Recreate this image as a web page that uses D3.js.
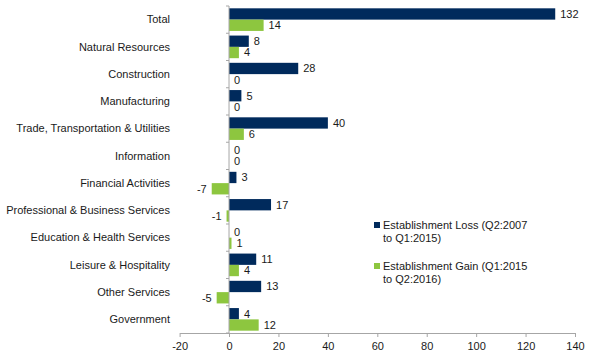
<html>
<head>
<meta charset="utf-8">
<style>
  body { margin: 0; background: #fff; font-family: 'Liberation Sans', Arial, sans-serif; }
  .axis path, .axis line { stroke: #a6a6a6; }
  text { fill: #1a1a1a; }
</style>
</head>
<body>
<script src="https://d3js.org/d3.v7.min.js"></script>
<script>

var categories = ['Total', 'Natural Resources', 'Construction', 'Manufacturing',
  'Trade, Transportation & Utilities', 'Information', 'Financial Activities',
  'Professional & Business Services', 'Education & Health Services',
  'Leisure & Hospitality', 'Other Services', 'Government'];
var loss = [132, 8, 28, 5, 40, 0, 3, 17, 0, 11, 13, 4];
var gain = [14, 4, 0, 0, 6, 0, -7, -1, 1, 4, -5, 12];
var seriesNames = ['Establishment Loss (Q2:2007|to Q1:2015)', 'Establishment Gain (Q1:2015|to Q2:2016)'];
var colors = ['#002a5c', '#8dc63f'];
var xTicks = [-20, 0, 20, 40, 60, 80, 100, 120, 140];

var width = 595, height = 364;

var svg = d3.select('body').append('svg')
  .attr('width', width)
  .attr('height', height);

var x = d3.scaleLinear().domain([-20, 140]).range([179.6, 575]);
var y = d3.scaleBand().domain(categories).range([6, 333]).paddingInner(0.17).paddingOuter(0.085);
var sub = d3.scaleBand().domain([0, 1]).range([0, y.bandwidth()]);

var rows = categories.map(function (c, i) { return { cat: c, vals: [loss[i], gain[i]] }; });

var g = svg.selectAll('g.row')
  .data(rows)
  .enter().append('g')
  .attr('class', 'row')
  .attr('transform', function (d) { return 'translate(0,' + y(d.cat) + ')'; });

g.selectAll('rect')
  .data(function (d) { return d.vals; })
  .enter().append('rect')
  .attr('x', function (v) { return x(Math.min(0, v)); })
  .attr('y', function (v, i) { return sub(i); })
  .attr('width', function (v) { return Math.abs(x(v) - x(0)); })
  .attr('height', sub.bandwidth())
  .attr('fill', function (v, i) { return colors[i]; });

g.selectAll('text.val')
  .data(function (d) { return d.vals; })
  .enter().append('text')
  .attr('class', 'val')
  .attr('x', function (v) { return v < 0 ? x(v) - 5 : x(v) + 5; })
  .attr('y', function (v, i) { return sub(i) + sub.bandwidth() / 2; })
  .attr('dy', '0.35em')
  .attr('text-anchor', function (v) { return v < 0 ? 'end' : 'start'; })
  .style('font-size', '11px')
  .text(function (v) { return v; });

// x axis
svg.append('g')
  .attr('class', 'axis')
  .attr('transform', 'translate(0,333)')
  .call(d3.axisBottom(x).tickValues(xTicks).tickFormat(function (d) { return String(d); }).tickSize(4).tickSizeOuter(0))
  .call(function (a) {
    a.selectAll('text').style('font-size', '11px').style('font-family', 'Liberation Sans, Arial').attr('dy', '0.9em');
  });

// y axis: line with ticks at category boundaries
var yAxis = svg.append('g').attr('class', 'axis');
yAxis.append('line')
  .attr('x1', x(0)).attr('x2', x(0))
  .attr('y1', 6).attr('y2', 333);
yAxis.selectAll('line.tk')
  .data(d3.range(categories.length + 1))
  .enter().append('line')
  .attr('class', 'tk')
  .attr('x1', x(0) - 3).attr('x2', x(0))
  .attr('y1', function (i) { return 6 + i * y.step(); })
  .attr('y2', function (i) { return 6 + i * y.step(); });

svg.selectAll('text.cat')
  .data(categories)
  .enter().append('text')
  .attr('class', 'cat')
  .attr('x', 170)
  .attr('y', function (c) { return y(c) + y.bandwidth() / 2; })
  .attr('dy', '0.35em')
  .attr('text-anchor', 'end')
  .style('font-size', '11px')
  .text(function (c) { return c; });

// legend
var legend = svg.selectAll('g.legend')
  .data(seriesNames)
  .enter().append('g')
  .attr('class', 'legend')
  .attr('transform', function (d, i) { return 'translate(374,' + (225 + i * 41) + ')'; });

legend.append('rect')
  .attr('x', 0).attr('y', -3)
  .attr('width', 6).attr('height', 6)
  .attr('fill', function (d, i) { return colors[i]; });

legend.append('text')
  .attr('x', 9)
  .style('font-size', '11px')
  .selectAll('tspan')
  .data(function (d) { return d.split('|'); })
  .enter().append('tspan')
  .attr('x', 9)
  .attr('dy', function (d, i) { return i === 0 ? '0.35em' : '13'; })
  .text(function (d) { return d; });

</script>
</body>
</html>
